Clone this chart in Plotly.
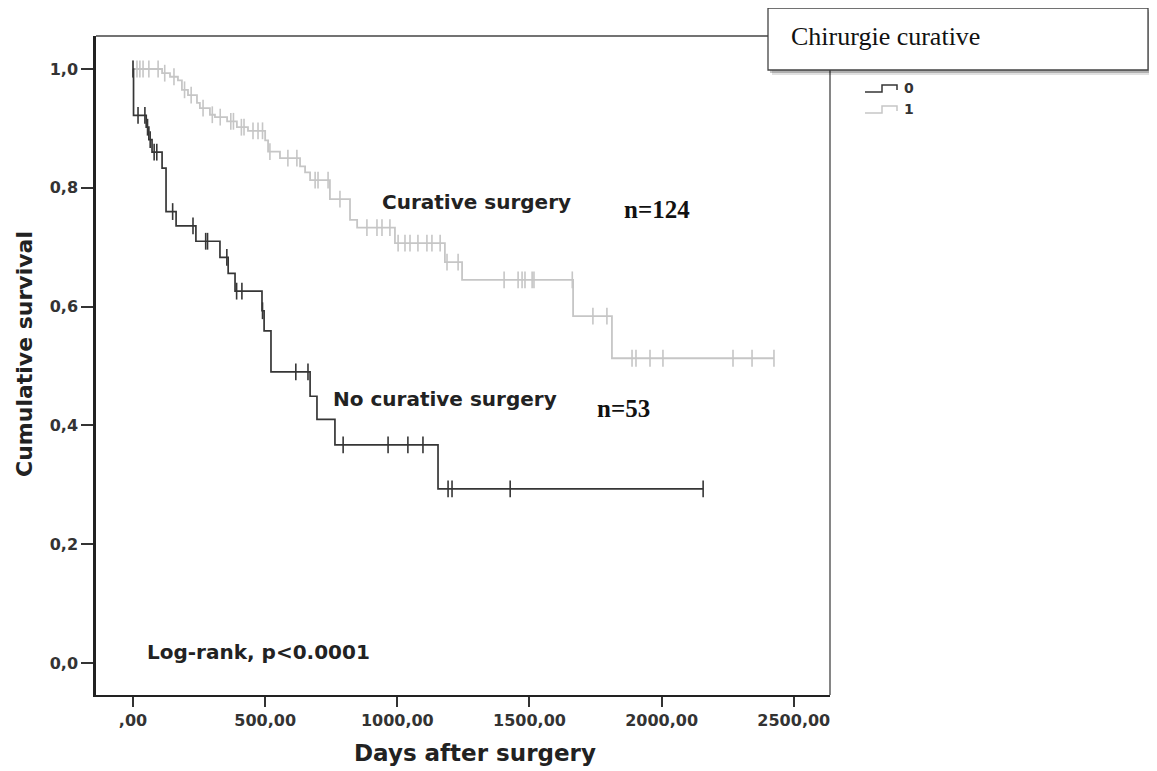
import plotly.graph_objects as go

# ---------------- data ----------------
# Group 0: no curative surgery (n=53)
black_time = [0, 2, 50, 60, 72, 110, 125, 163, 238, 329, 360, 386, 488, 496, 522, 670, 696, 764, 1154]
black_surv = [1.0, 0.922, 0.902, 0.881, 0.860, 0.833, 0.760, 0.736, 0.710, 0.683, 0.656, 0.626,
              0.593, 0.559, 0.490, 0.449, 0.410, 0.367, 0.293]
black_end = 2157
black_censor = [0, 19, 45, 55, 65, 80, 90, 150, 227, 275, 282, 355, 392, 412, 490, 616, 662,
                795, 965, 1040, 1097, 1192, 1207, 1427, 2157]

# Group 1: curative surgery (n=124)
gray_time = [0, 110, 140, 170, 185, 208, 242, 253, 291, 310, 356, 393, 435, 500, 511, 556, 632,
             651, 670, 745, 821, 848, 991, 1180, 1245, 1665, 1812]
gray_surv = [1.0, 0.993, 0.987, 0.981, 0.965, 0.956, 0.943, 0.934, 0.923, 0.919, 0.912, 0.902,
             0.896, 0.880, 0.861, 0.850, 0.836, 0.826, 0.813, 0.781, 0.746, 0.733, 0.707, 0.675,
             0.645, 0.584, 0.513]
gray_end = 2425
gray_censor = [0, 15, 26, 38, 60, 95, 120, 155, 195, 220, 265, 300, 330, 370, 380, 410, 420, 454,
               473, 490, 518, 586, 620, 689, 700, 738, 783, 885, 923, 942, 972, 1003, 1029, 1048,
               1078, 1112, 1131, 1162, 1188, 1230, 1404, 1457, 1472, 1483, 1510, 1517, 1662, 1740,
               1793, 1888, 1903, 1956, 2005, 2270, 2342, 2425]

x_ticks = [0, 500, 1000, 1500, 2000, 2500]
x_ticktext = [",00", "500,00", "1000,00", "1500,00", "2000,00", "2500,00"]
y_ticks = [0.0, 0.2, 0.4, 0.6, 0.8, 1.0]
y_ticktext = ["0,0", "0,2", "0,4", "0,6", "0,8", "1,0"]


def surv_at(times, survs, t):
    s = survs[0]
    for ti, si in zip(times, survs):
        if ti <= t:
            s = si
    return s


BLACK = "#363636"
GRAY = "#c6c6c6"
SANS = "DejaVu Sans"
SERIF = "Liberation Serif"

fig = go.Figure()

for times, survs, end, cens, col, w in [
    (gray_time, gray_surv, gray_end, gray_censor, GRAY, 1.8),
    (black_time, black_surv, black_end, black_censor, BLACK, 1.7),
]:
    fig.add_trace(go.Scatter(x=times + [end], y=survs + [survs[-1]], mode="lines",
                             line=dict(color=col, width=w, shape="hv"), showlegend=False,
                             hoverinfo="skip"))
    fig.add_trace(go.Scatter(x=cens, y=[surv_at(times, survs, t) for t in cens], mode="markers",
                             marker=dict(symbol="line-ns", size=12,
                                         line=dict(color=col, width=1.6)),
                             showlegend=False, hoverinfo="skip"))

# plot frame in page pixels (page has an 8px body margin)
OFF = 8
L, R, T, B = 96, 830, 36, 695
W, H = 1157 - OFF, 771 - OFF


def px(xp):
    return (xp - L) / (R - L)


def py(yp):
    return (B - yp) / (B - T)


tickfont = dict(family=SANS, size=16, color="#333333", weight="bold")

fig.update_layout(
    width=W, height=H,
    margin=dict(l=L - OFF, r=W - (R - OFF), t=T - OFF, b=H - (B - OFF)),
    plot_bgcolor="white", paper_bgcolor="white",
    xaxis=dict(range=[-140, 2637], tickvals=x_ticks, ticktext=x_ticktext, ticks="outside",
               ticklen=10, tickwidth=2, tickcolor="#333333", showline=True, linewidth=2,
               linecolor="#222222", showgrid=False, zeroline=False, tickfont=tickfont),
    yaxis=dict(range=[-0.054, 1.0556], tickvals=y_ticks, ticktext=y_ticktext, ticks="outside",
               ticklen=12, tickwidth=2, tickcolor="#333333", showline=True, linewidth=2.5,
               linecolor="#222222", showgrid=False, zeroline=False, tickfont=tickfont),
)

ann_font = dict(family=SANS, size=20, color="#222222", weight="bold")
num_font = dict(family=SERIF, size=25, color="#111111", weight="bold")

fig.add_annotation(x=1298, y=0.776, text="Curative surgery", showarrow=False, font=ann_font)
fig.add_annotation(x=1983, y=0.763, text="n=124", showarrow=False, font=num_font)
fig.add_annotation(x=1180, y=0.444, text="No curative surgery", showarrow=False, font=ann_font)
fig.add_annotation(x=1854, y=0.428, text="n=53", showarrow=False, font=num_font)
fig.add_annotation(x=45, y=0.0185, text="Log-rank, p<0.0001", showarrow=False, xanchor="left",
                   yanchor="middle", font=ann_font)

# axis titles
fig.add_annotation(xref="paper", yref="paper", x=px(24), y=py(354), text="Cumulative survival",
                   textangle=-90, showarrow=False, xanchor="center", yanchor="middle",
                   font=dict(family=SANS, size=22, color="#222222", weight="bold"))
fig.add_annotation(xref="paper", yref="paper", x=px(475), y=py(753), text="Days after surgery",
                   showarrow=False, xanchor="center", yanchor="middle",
                   font=dict(family=SANS, size=23, color="#222222", weight="bold"))

# frame top / right
fig.add_shape(type="line", xref="paper", yref="paper", x0=0, y0=1, x1=1, y1=1,
              line=dict(color="#444444", width=1.3))
fig.add_shape(type="line", xref="paper", yref="paper", x0=1, y0=0, x1=1, y1=1,
              line=dict(color="#444444", width=1.3))

# title box with shadow
fig.add_shape(type="rect", xref="paper", yref="paper", x0=px(772), x1=px(1152), y0=py(75),
              y1=py(12), line=dict(width=0), fillcolor="rgba(0,0,0,0.12)")
fig.add_shape(type="rect", xref="paper", yref="paper", x0=px(770), x1=px(1150), y0=py(73),
              y1=py(10), line=dict(width=0), fillcolor="rgba(0,0,0,0.22)")
fig.add_shape(type="rect", xref="paper", yref="paper", x0=px(768), x1=px(1148), y0=py(70),
              y1=py(8), line=dict(color="#444444", width=1.3), fillcolor="white")
fig.add_annotation(xref="paper", yref="paper", x=px(789), y=py(36), xanchor="left",
                   yanchor="middle", text="Chirurgie curative", showarrow=False,
                   font=dict(family=SERIF, size=26, color="#111111"))

# legend glyphs
for yb, col, lab in [(92, BLACK, "0"), (113, GRAY, "1")]:
    path = "M {} {} L {} {} L {} {} L {} {} L {} {}".format(
        px(865), py(yb), px(882), py(yb), px(882), py(yb - 7), px(897), py(yb - 7),
        px(897), py(yb - 2))
    fig.add_shape(type="path", xref="paper", yref="paper", path=path,
                  line=dict(color=col, width=1.5))
    fig.add_annotation(xref="paper", yref="paper", x=px(902), y=py(yb - 4), xanchor="left",
                       yanchor="middle", text=lab, showarrow=False,
                       font=dict(family=SANS, size=14, color="#333333", weight="bold"))

fig.write_html("out.html")
